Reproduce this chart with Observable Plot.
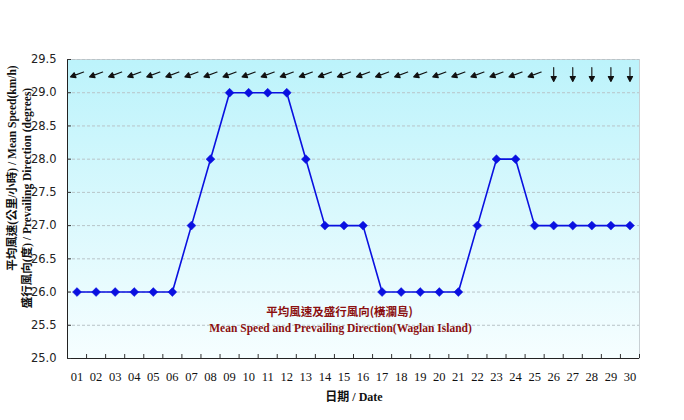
<!DOCTYPE html>
<html>
<head>
<meta charset="utf-8">
<script src="https://cdn.jsdelivr.net/npm/d3@7"></script>
<script src="https://cdn.jsdelivr.net/npm/@observablehq/plot@0.6"></script>
<style>
  html, body { margin: 0; padding: 0; background: #ffffff; }
  #chart { width: 684px; height: 420px; }
</style>
</head>
<body>
<div id="chart"></div>
<script>
// ---- data ----
const days = [1,2,3,4,5,6,7,8,9,10,11,12,13,14,15,16,17,18,19,20,21,22,23,24,25,26,27,28,29,30];
const dayLabels = ["01","02","03","04","05","06","07","08","09","10","11","12","13","14","15","16","17","18","19","20","21","22","23","24","25","26","27","28","29","30"];
const meanSpeed = [26,26,26,26,26,26,27,28,29,29,29,29,28,27,27,27,26,26,26,26,26,27,28,28,27,27,27,27,27,27];
const prevailingDir = [70,70,70,70,70,70,70,70,70,70,70,70,70,70,70,70,70,70,70,70,70,70,70,70,70,360,360,360,360,360];
const yTicks = [25.0,25.5,26.0,26.5,27.0,27.5,28.0,28.5,29.0,29.5];
const dayBoundaries = [1.5,2.5,3.5,4.5,5.5,6.5,7.5,8.5,9.5,10.5,11.5,12.5,13.5,14.5,15.5,16.5,17.5,18.5,19.5,20.5,21.5,22.5,23.5,24.5,25.5,26.5,27.5,28.5,29.5,30.5];
const titleZh = "平均風速及盛行風向(橫瀾島)";
const titleEn = "Mean Speed and Prevailing Direction(Waglan Island)";
const yLabel1 = "平均風速(公里/小時) / Mean Speed(km/h)";
const yLabel2 = "盛行風向(度) / Prevailing Direction (degrees)";
const xLabel = "日期 / Date";

const rows = days.map((d, i) => ({day: d, label: dayLabels[i], speed: meanSpeed[i], dir: prevailingDir[i]}));

const arrowShape = {
  draw(context, l) {
    const h = 5, w = 2.6;
    context.moveTo(0, 0);
    context.lineTo(0, -l + h * 0.6);
    context.moveTo(0, -l);
    context.lineTo(-w, -l + h);
    context.lineTo(w, -l + h);
    context.closePath();
  }
};

const serif = "'Liberation Serif', 'DejaVu Serif', 'Noto Sans CJK TC', serif";

const plot = Plot.plot({
  width: 684,
  height: 420,
  marginLeft: 67,
  marginRight: 45,
  marginTop: 59,
  marginBottom: 62,
  style: {background: "transparent", fontFamily: serif},
  x: {domain: [0.5, 30.5], axis: null},
  y: {domain: [25, 29.5], axis: null},
  marks: [
    Plot.frame({fill: "url(#bgGrad)", stroke: "#c8d0d4"}),
    Plot.ruleY(yTicks.slice(1), {stroke: "#b8c4c8", strokeDasharray: "3,2", strokeWidth: 1}),
    // axes lines
    Plot.ruleY([25], {stroke: "#222"}),
    Plot.ruleX([0.5], {stroke: "#222"}),
    // inward tick marks
    Plot.axisX({anchor: "bottom", ticks: dayBoundaries, tickSize: 4, dy: -4, tickFormat: () => "", label: null, stroke: "#333"}),
    Plot.axisY({anchor: "left", ticks: yTicks, tickSize: 4, dx: 4, tickFormat: () => "", label: null, stroke: "#333"}),
    // tick labels
    Plot.axisX({anchor: "bottom", ticks: days, tickSize: 0, tickPadding: 14, tickFormat: (d) => dayLabels[d - 1], label: null,
      fontSize: 12.5, fontFamily: serif, fill: "#111"}),
    Plot.axisY({anchor: "left", ticks: yTicks, tickSize: 0, tickPadding: 11, tickFormat: d3.format(".1f"), label: null,
      fontSize: 11.5, fontFamily: "'DejaVu Sans', sans-serif", fill: "#222", textAnchor: "end"}),
    // series
    Plot.line(rows, {x: "day", y: "speed", stroke: "#0a10e0", strokeWidth: 1.6}),
    Plot.dot(rows, {x: "day", y: "speed", symbol: "diamond2", r: 4, fill: "#0a10e0", stroke: "#0a10e0", strokeWidth: 0.5}),
    // direction arrows
    Plot.vector(rows, {x: "day", frameAnchor: "top", dy: 15, rotate: (d) => (d.dir + 180) % 360,
      length: 14, anchor: "middle", shape: arrowShape, stroke: "#111", fill: "#111", strokeWidth: 1.1}),
    // in-plot title
    Plot.text([titleZh], {frameAnchor: "bottom", dx: -14, dy: -43, fill: "#8b1010", fontSize: 11.5, fontWeight: "bold", fontFamily: "'Noto Sans CJK TC', serif"}),
    Plot.text([titleEn], {frameAnchor: "bottom", dx: -13, dy: -27, fill: "#8b1010", fontSize: 11.5, fontWeight: "bold", fontFamily: serif})
  ]
});

// gradient background definition
const ns = "http://www.w3.org/2000/svg";
const defs = document.createElementNS(ns, "defs");
defs.innerHTML = `<linearGradient id="bgGrad" x1="0" y1="0" x2="0" y2="1">
  <stop offset="0%" stop-color="#bcf3fb"/>
  <stop offset="100%" stop-color="#f6feff"/>
</linearGradient>`;
plot.insertBefore(defs, plot.firstChild);

// axis titles
function addText(txt, attrs) {
  const t = document.createElementNS(ns, "text");
  for (const k in attrs) t.setAttribute(k, attrs[k]);
  t.textContent = txt;
  plot.appendChild(t);
}
addText(yLabel1, {transform: "translate(12,168) rotate(-90)", "text-anchor": "middle", "dominant-baseline": "central",
  "font-size": "11.5", "font-weight": "bold", "font-family": serif, fill: "#111"});
addText(yLabel2, {transform: "translate(27,198) rotate(-90)", "text-anchor": "middle", "dominant-baseline": "central",
  "font-size": "11.5", "font-weight": "bold", "font-family": serif, fill: "#111"});
addText(xLabel, {x: 354, y: 401, "text-anchor": "middle",
  "font-size": "12", "font-weight": "bold", "font-family": serif, fill: "#111"});

document.getElementById("chart").appendChild(plot);
</script>
</body>
</html>
